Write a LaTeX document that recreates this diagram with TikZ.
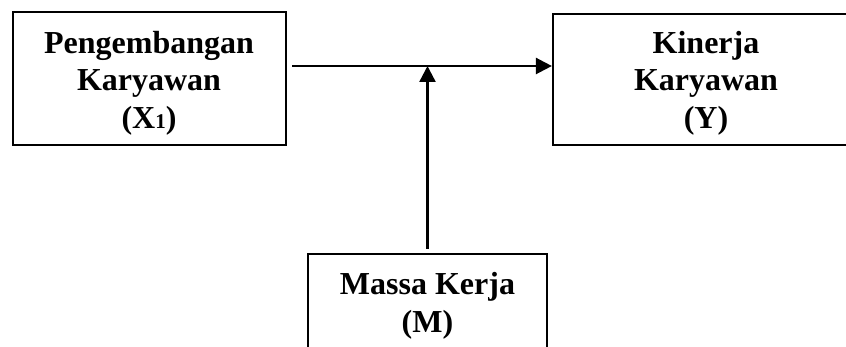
\documentclass[tikz,border=0pt]{standalone}
\usepackage{fontspec}
\setmainfont{Liberation Serif}
\usetikzlibrary{arrows.meta}
\begin{document}
\begin{tikzpicture}[x=1pt,y=-1pt,
  box/.style={draw=black,line width=2.2pt,rectangle,inner sep=0pt},
  lbl/.style={align=center,inner sep=0pt,
    font=\bfseries\fontsize{32}{37.5}\selectfont},
  conn/.style={line width=2.4pt,-{Triangle[length=16pt,width=16pt]}}]
  \useasboundingbox (0,0) rectangle (846,347);
  \clip (0,0) rectangle (846,347);
  % boxes
  \node[box,minimum width=273pt,minimum height=133pt] (b1) at (149.5,78.5) {};
  \node[box,minimum width=306pt,minimum height=131pt] (b2) at (706,79.5) {};
  \node[box,minimum width=239pt,minimum height=130pt] (b3) at (427.5,319) {};
  % labels
  \node[lbl] (t1) at (149,83) {Pengembangan\\Karyawan\\(X{\fontsize{21}{21}\selectfont 1})};
  \node[lbl] (t2) at (706,83) {Kinerja\\Karyawan\\(Y)};
  \node[lbl] (t3) at (427.5,306) {Massa Kerja\\(M)};
  % connectors
  \coordinate (j) at (427.5,66);
  \draw[conn,shorten <=5pt] (b1.east |- j) -- (b2.west |- j);
  \draw[conn,shorten <=4pt] (b3.north) -- (j);
\end{tikzpicture}
\end{document}
